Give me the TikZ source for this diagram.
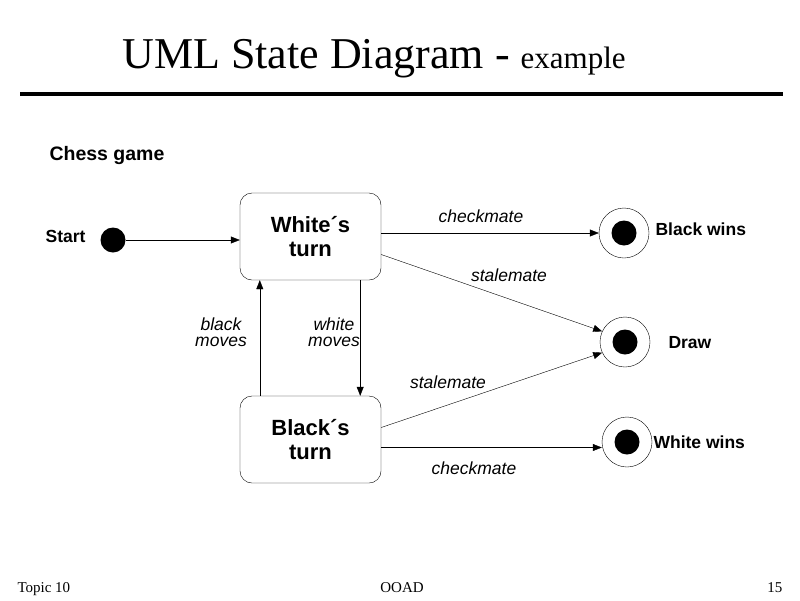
\documentclass[tikz,border=0pt]{standalone}
\usepackage{fontspec}
\setmainfont{Liberation Serif}
\setsansfont{Liberation Sans}
\usetikzlibrary{positioning,arrows.meta}

\begin{document}
\begin{tikzpicture}[x=1pt,y=-1pt]%[pixel grid, y down]
    \tikzstyle{state} = [draw, rounded corners=12pt, minimum width=141pt,
    minimum height=87pt, align=center, font=\sffamily\bfseries\fontsize{22}{24}\selectfont]
    \tikzstyle{init} = [circle, fill, minimum size=25pt, inner sep=0pt]
    \tikzstyle{ring} = [circle, draw, minimum size=50pt, inner sep=0pt]
    \tikzstyle{dot} = [circle, fill, minimum size=25pt, inner sep=0pt]
    \tikzstyle{lbl} = [font=\sffamily\bfseries\fontsize{17.5}{20}\selectfont]
    \tikzstyle{ev} = [font=\sffamily\itshape\fontsize{17.5}{20}\selectfont, align=center]
    \tikzstyle{trans} = [-{Triangle[length=9pt,width=7pt]}]
    \tikzstyle{foot} = [font=\fontsize{15}{17}\selectfont]
    \useasboundingbox (0,0) rectangle (800,600);
    % title and rule
    \node[font=\fontsize{44}{48}\selectfont, anchor=base] (title) at (374,68)
    {UML State Diagram - {\fontsize{31}{34}\selectfont example}};
    \coordinate (rl) at (20,94); \coordinate (rr) at (783,94);
    \draw[line width=4pt] (rl) -- (rr);
    \node[lbl, font=\sffamily\bfseries\fontsize{19.5}{22}\selectfont, anchor=west] (game) at (46,155) {Chess game};
    % states
    \node[init] (start) at (113,240) {};
    \node[lbl, anchor=east] (startlbl) at (89,236) {Start};
    \node[state] (white) at (310.5,236.5) {White´s\\turn};
    \node[state] (black) at (310.5,439.5) {Black´s\\turn};
    \node[ring] (bwins) at (624,233) {}; \node[dot] (bwdot) at (bwins) {};
    \node[ring] (draw) at (625,342) {}; \node[dot] (drdot) at (draw) {};
    \node[ring] (wwins) at (627,442) {}; \node[dot] (wwdot) at (wwins) {};
    \node[lbl, anchor=west] (bwlbl) at (652,229) {Black wins};
    \node[lbl, anchor=west] (drlbl) at (665,343) {Draw};
    \node[lbl, anchor=west] (wwlbl) at (650,442) {White wins};
    % transitions
    \draw[trans] (start) -- (white.west |- start);
    \draw[trans] (white.east |- bwins) -- (bwins.west);
    \draw[trans] ([yshift=-18pt]white.east) -- (draw.155);
    \draw[trans] ([xshift=-21pt]white.south east) -- ([xshift=-21pt]white.south east |- black.north);
    \draw[trans] ([xshift=20pt]black.north west) -- ([xshift=20pt]black.north west |- white.south);
    \draw[trans] ([yshift=12pt]black.east) -- (draw.205);
    \draw[trans] ([yshift=-8pt]black.east) -- ([yshift=-8pt]black.east -| wwins.west);
    % event labels
    \node[ev] (cm1) at (481,216) {checkmate};
    \node[ev] (sm1) at (509,275) {stalemate};
    \node[ev] (bm) at (221,332) {black\\[-4pt]moves};
    \node[ev] (wm) at (334,332) {white\\[-4pt]moves};
    \node[ev] (sm2) at (448,382) {stalemate};
    \node[ev] (cm2) at (474,468) {checkmate};
    % footer
    \node[foot, anchor=base west] (topic) at (14,592) {Topic 10};
    \node[foot, anchor=base] (ooad) at (402,592) {OOAD};
    \node[foot, anchor=base east] (page) at (786,592) {15};
\end{tikzpicture}
\end{document}
